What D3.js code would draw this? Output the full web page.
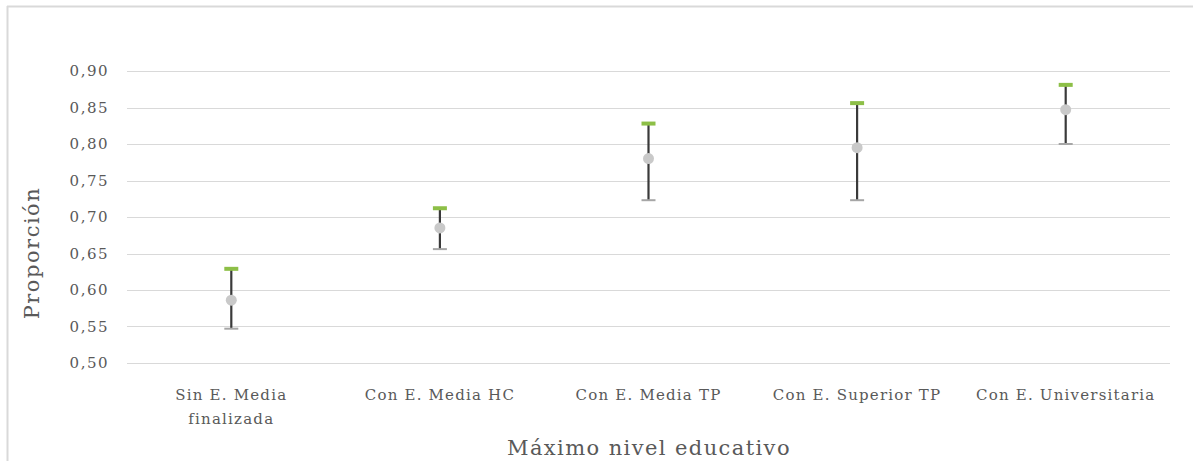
<!DOCTYPE html>
<html>
<head>
<meta charset="utf-8">
<script src="https://cdn.jsdelivr.net/npm/d3@7"></script>
<style>
  html, body { margin: 0; padding: 0; background: #fff; }
  svg { display: block; }
  text { font-family: "DejaVu Serif", "Liberation Serif", serif; fill: #595959; }
</style>
</head>
<body>
<svg id="chart" width="1194" height="461"></svg>
<script>
// Education level categories (second line of label after "\n")
const categories = [
  "Sin E. Media\nfinalizada",
  "Con E. Media HC",
  "Con E. Media TP",
  "Con E. Superior TP",
  "Con E. Universitaria"
];
// Upper bound, point estimate and lower bound of the proportion
const highValues = [0.629, 0.712, 0.828, 0.856, 0.881];
const meanValues = [0.586, 0.685, 0.780, 0.795, 0.847];
const lowValues  = [0.547, 0.656, 0.723, 0.723, 0.800];
const yTicks = [0.50, 0.55, 0.60, 0.65, 0.70, 0.75, 0.80, 0.85, 0.90];

const svg = d3.select("#chart");
const margin = { left: 127, right: 1170, top: 71, bottom: 363 };

// Frame lines (top and left edges)
svg.append("line").attr("x1", 7).attr("x2", 1193).attr("y1", 6.5).attr("y2", 6.5)
  .attr("stroke", "#d9d9d9").attr("stroke-width", 2);
svg.append("line").attr("x1", 7.5).attr("x2", 7.5).attr("y1", 6).attr("y2", 461)
  .attr("stroke", "#d9d9d9").attr("stroke-width", 2);

const x = d3.scaleBand().domain(categories).range([margin.left, margin.right]);
const y = d3.scaleLinear().domain([0.5, 0.9]).range([margin.bottom, margin.top]);
const fmt = v => d3.format(".2f")(v).replace(".", ",");

// Horizontal gridlines
svg.append("g").selectAll("line").data(yTicks).join("line")
  .attr("x1", margin.left).attr("x2", margin.right)
  .attr("y1", d => Math.round(y(d)) + 0.5).attr("y2", d => Math.round(y(d)) + 0.5)
  .attr("stroke", "#d9d9d9").attr("stroke-width", 1);

// Y axis labels
const yAxis = d3.axisLeft(y).tickValues(yTicks).tickFormat(fmt).tickSize(0).tickPadding(0);
const gy = svg.append("g").attr("transform", "translate(109,0)").call(yAxis);
gy.select(".domain").remove();
gy.selectAll("text").style("font-family", "DejaVu Serif").style("font-size", "15px")
  .style("fill", "#595959").style("letter-spacing", "1.5px");

// X axis labels
const xAxis = d3.axisBottom(x).tickSize(0).tickPadding(0).tickFormat("");
const gx = svg.append("g").attr("transform", `translate(0,${margin.bottom})`).call(xAxis);
gx.select(".domain").remove();
gx.selectAll(".tick").each(function(d) {
  const t = d3.select(this).append("text")
    .attr("text-anchor", "middle")
    .style("font-size", "15px").style("letter-spacing", "1.2px").style("fill", "#595959");
  d.split("\n").forEach((line, i) => {
    t.append("tspan").attr("x", 0).attr("y", 37 + i * 24).text(line);
  });
});

const rows = categories.map((c, i) => ({ c, hi: highValues[i], mean: meanValues[i], lo: lowValues[i] }));
const cx = d => x(d.c) + x.bandwidth() / 2;
const marks = svg.append("g");

// High-low bar
marks.selectAll(".hl").data(rows).join("line")
  .attr("x1", cx).attr("x2", cx)
  .attr("y1", d => y(d.hi)).attr("y2", d => y(d.lo))
  .attr("stroke", "#3a3a3a").attr("stroke-width", 2.2);

// Low marker
marks.selectAll(".lo").data(rows).join("line")
  .attr("x1", d => cx(d) - 7).attr("x2", d => cx(d) + 7)
  .attr("y1", d => y(d.lo)).attr("y2", d => y(d.lo))
  .attr("stroke", "#a6a6a6").attr("stroke-width", 2);

// High marker
marks.selectAll(".hi").data(rows).join("line")
  .attr("x1", d => cx(d) - 7).attr("x2", d => cx(d) + 7)
  .attr("y1", d => y(d.hi)).attr("y2", d => y(d.hi))
  .attr("stroke", "#8dbf47").attr("stroke-width", 4);

// Point estimate
marks.selectAll(".mean").data(rows).join("circle")
  .attr("cx", cx).attr("cy", d => y(d.mean)).attr("r", 5.5)
  .attr("fill", "#c9c9c9");

// Axis titles
svg.append("text").attr("transform", "translate(39,253) rotate(-90)")
  .attr("text-anchor", "middle").style("font-size", "21px").style("letter-spacing", "1.5px")
  .text("Proporción");
svg.append("text").attr("x", 649).attr("y", 455)
  .attr("text-anchor", "middle").style("font-size", "21px").style("letter-spacing", "1.4px")
  .text("Máximo nivel educativo");
</script>
</body>
</html>
